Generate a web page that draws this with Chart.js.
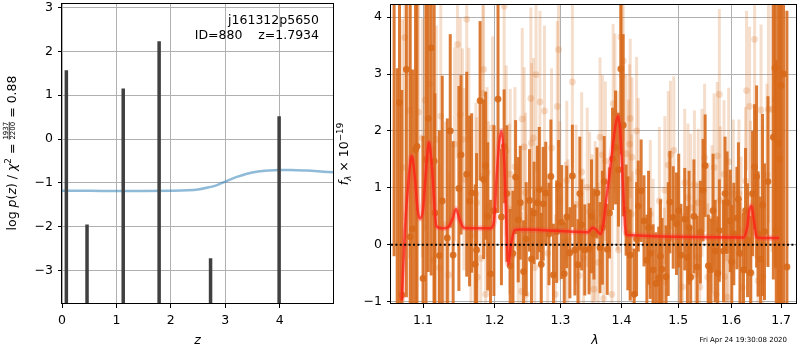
<!DOCTYPE html>
<html>
<head>
<meta charset="utf-8">
<script src="https://cdn.jsdelivr.net/npm/chart.js@4.4.1/dist/chart.umd.min.js"></script>
<style>
body { margin: 0; background: #fff; }
#wrap { position: relative; width: 800px; height: 350px; }
canvas { position: absolute; top: 0; }
</style>
</head>
<body>
<div id="wrap">
<canvas id="pzChart" width="345" height="350" style="left:0"></canvas>
<canvas id="specChart" width="465" height="350" style="left:335px"></canvas>
</div>
<script>
// ---- p(z) panel ----
var zTicks = [0, 1, 2, 3, 4];
var logpTicks = [-3, -2, -1, 0, 1, 2, 3];
var peakZ = [0.08, 0.46, 1.125, 1.785, 2.73, 3.99];
var peakLogp = [1.57, -1.95, 1.15, 2.23, -2.72, 0.52];
var chi2Z = [0, 0.5, 1.0, 1.5, 2.0, 2.3, 2.5, 2.7, 2.85, 3.0, 3.2, 3.4, 3.6, 3.8, 4.0, 4.2, 4.5, 4.8, 4.98];
var chi2Val = [-1.18, -1.18, -1.185, -1.185, -1.18, -1.17, -1.15, -1.10, -1.05, -0.97, -0.87, -0.79, -0.74, -0.715, -0.705, -0.705, -0.72, -0.745, -0.76];

// ---- spectrum panel ----
var lamTicks = [1.1, 1.2, 1.3, 1.4, 1.5, 1.6, 1.7];
var fluxTicks = [-1, 0, 1, 2, 3, 4];

// combined extraction (dark)
var darkLam = [1.062, 1.066, 1.072, 1.078, 1.083, 1.086, 1.090, 1.092, 1.100, 1.107, 1.111, 1.115, 1.116, 1.122, 1.126, 1.133, 1.137, 1.141, 1.149, 1.152,
  1.160, 1.164, 1.167, 1.172, 1.174, 1.179, 1.184, 1.187, 1.190, 1.194, 1.205, 1.210, 1.214, 1.223, 1.227, 1.231, 1.235, 1.238, 1.243, 1.247,
  1.252, 1.255, 1.259, 1.264, 1.267, 1.270, 1.273, 1.277, 1.282, 1.289, 1.294, 1.297, 1.306, 1.310, 1.315, 1.319, 1.323, 1.328, 1.334, 1.339,
  1.346, 1.354, 1.359, 1.364, 1.371, 1.376, 1.380, 1.385, 1.390, 1.395, 1.399, 1.408, 1.415, 1.422, 1.429, 1.434, 1.439, 1.444, 1.450, 1.455,
  1.460, 1.465, 1.471, 1.478, 1.485, 1.491, 1.497, 1.505, 1.512, 1.517, 1.523, 1.535, 1.541, 1.546, 1.550, 1.556, 1.561, 1.569, 1.577, 1.585,
  1.592, 1.598, 1.605, 1.611, 1.617, 1.624, 1.632, 1.638, 1.646, 1.653, 1.658, 1.666, 1.673, 1.684, 1.690, 1.694, 1.700, 1.712,
  1.069, 1.104, 1.199, 1.218, 1.285, 1.302, 1.331, 1.350, 1.368, 1.403, 1.411, 1.426,
  1.447, 1.468, 1.482, 1.501, 1.520, 1.529, 1.565, 1.574, 1.588, 1.601, 1.614, 1.628, 1.642, 1.650, 1.662, 1.688, 1.697, 1.705];
var darkFlux = [4.8, -1.4, -0.88, 3.08, 0.14, 0.28, 1.67, 1.73, -0.59, 2.22, 3.46, 1.47, 0.56, -0.19, 0.77, 0.12, 2.00, -0.18, 0.99, 1.58,
  1.24, 0.77, 0.91, -0.34, -0.09, 2.53, 1.15, 1.39, 0.50, -0.51, 2.56, 0.49, 1.73, -0.37, -0.15, 1.19, 0.44, 0.74, -0.47, 0.10,
  0.78, -0.25, 0.56, 0.74, 0.97, -0.34, 0.72, 0.91, 0.19, -0.53, 0.23, 1.04, -0.51, 0.49, -0.14, 1.21, -0.09, -0.35, 0.35, -0.09,
  -0.07, 0.19, 0.91, -0.05, 1.11, -0.08, 0.56, 1.51, 1.71, 1.32, 3.09, 0.61, -0.18, -0.87, 0.68, 0.95, 0.42, -0.27, -0.15, -0.44,
  -0.68, -0.58, -0.43, -0.56, 0.75, 0.48, 0.37, -0.18, 0.45, -0.22, -0.57, -0.39, 0.22, 0.96, 1.39, -0.37, -0.44, -0.11, 0.25, -0.11,
  0.74, 0.42, 0.19, 0.47, -0.15, -0.44, 0.08, -0.49, 1.37, 0.19, -0.25, 0.23, 1.11, 1.89, 0.25, 1.78, 2.8, -0.39,
  2.5, 1.5, 0.6, 0.9, 1.2, 0.4, 0.9, 0.5, 0.3, 2.1, 0.2, 0.1,
  0.3, -0.2, 0.1, 0.6, 0.3, 0.5, 0.6, -0.5, 0.9, -0.3, 0.8, 0.6, 0.9, 1.2, 0.7, 3.1, 1.5, 3.0];
var darkErr = [5.0, 4.5, 3.6, 4.0, 4.2, 2.8, 3.1, 2.8, 2.5, 2.7, 4.0, 2.8, 2.1, 2.2, 2.2, 2.1, 1.7, 2.0, 1.8, 1.4,
  1.8, 1.5, 1.4, 1.4, 1.7, 1.4, 1.4, 1.3, 1.3, 1.3, 2.0, 1.2, 1.0, 1.0, 1.1, 1.0, 1.1, 1.0, 0.9, 1.0,
  0.9, 0.9, 0.9, 1.0, 1.1, 0.9, 1.0, 0.9, 0.9, 0.9, 0.9, 0.8, 0.9, 0.9, 0.8, 0.9, 0.8, 0.8, 0.8, 0.8,
  0.8, 0.8, 0.8, 0.8, 0.8, 0.8, 0.8, 0.9, 1.0, 1.0, 1.5, 0.8, 0.8, 0.8, 0.8, 0.9, 0.8, 0.8, 0.8, 0.8,
  0.9, 0.9, 0.9, 0.9, 0.9, 0.9, 0.9, 0.9, 0.9, 0.9, 0.9, 0.9, 0.9, 0.9, 0.9, 0.9, 0.9, 0.9, 0.9, 0.9,
  0.9, 0.9, 0.9, 0.9, 0.9, 1.0, 1.0, 1.0, 1.1, 1.1, 1.1, 1.2, 1.5, 2.5, 3.0, 3.5, 4.5, 4.5,
  4.5, 3.6, 1.5, 1.2, 1.0, 1.0, 1.0, 1.0, 1.0, 1.6, 1.0, 1.0,
  1.0, 1.0, 1.0, 1.0, 1.0, 1.0, 1.0, 1.0, 1.0, 1.0, 1.0, 1.1, 1.1, 1.6, 1.6, 3.5, 4.5, 4.5];

// individual beams (light)
var lightLam = [1.073, 1.076, 1.082, 1.094, 1.099, 1.103, 1.109, 1.114, 1.118, 1.122, 1.124, 1.130, 1.135, 1.143, 1.147, 1.151, 1.154, 1.156, 1.160, 1.163,
  1.166, 1.173, 1.174, 1.175, 1.180, 1.183, 1.184, 1.187, 1.189, 1.191, 1.197, 1.214, 1.217, 1.222, 1.223, 1.227, 1.230, 1.235, 1.240, 1.241,
  1.244, 1.246, 1.247, 1.254, 1.255, 1.258, 1.260, 1.262, 1.268, 1.270, 1.275, 1.280, 1.286, 1.292, 1.295, 1.297, 1.299, 1.308, 1.310, 1.312,
  1.319, 1.325, 1.330, 1.334, 1.337, 1.343, 1.347, 1.351, 1.354, 1.356, 1.361, 1.364, 1.368, 1.370, 1.373, 1.384, 1.386, 1.389, 1.393, 1.395,
  1.399, 1.401, 1.403, 1.408, 1.412, 1.414, 1.415, 1.417, 1.418, 1.419, 1.426, 1.429, 1.450, 1.455, 1.466, 1.475, 1.476, 1.482, 1.486, 1.492,
  1.501, 1.508, 1.512, 1.518, 1.523, 1.530, 1.532, 1.535, 1.537, 1.540, 1.544, 1.549, 1.555, 1.556, 1.563, 1.567, 1.571, 1.573, 1.577, 1.579,
  1.586, 1.587, 1.591, 1.592, 1.595, 1.597, 1.604, 1.615, 1.619, 1.622, 1.628, 1.630, 1.636, 1.638, 1.640, 1.646, 1.648, 1.653, 1.659, 1.662,
  1.663, 1.671, 1.674, 1.681, 1.686, 1.688];
var lightFlux = [1.36, 3.64, 2.36, 2.33, 1.88, 2.54, 2.82, -0.27, 1.85, -0.40, 2.26, 0.36, -0.53, 1.77, 3.52, 2.29, 1.85, 1.15, 3.96, 1.86,
  0.16, 0.90, 0.74, -0.57, -0.24, 2.66, 3.08, -0.87, 1.27, 0.67, 2.06, 4.19, 1.65, 0.63, 1.24, -0.19, 1.37, -0.04, -0.82, 2.21,
  1.72, 0.92, -0.87, 2.57, 1.79, 1.88, -0.40, 2.99, 2.51, -0.36, 2.35, -0.15, 1.70, -0.87, 2.43, 3.43, 0.77, 0.06, 1.13, 0.10,
  2.86, 0.71, -0.54, 1.28, -0.23, 1.01, 0.58, 0.19, -0.78, 0.42, -0.31, 1.89, 1.58, -0.94, 1.47, -0.87, 2.48, 2.31, 1.30, -0.09,
  3.65, 2.96, 3.23, 1.60, 1.15, 1.77, 2.22, 0.54, 1.54, -0.11, 2.00, 1.28, 0.54, -0.14, 0.77, -0.65, 0.96, 1.40, 1.58, 1.66,
  -0.08, -0.74, 1.09, 0.83, 0.65, 1.06, -0.51, -0.22, 0.74, -0.74, 1.09, 1.53, -0.57, 0.14, 0.45, 1.36, -0.87, 1.56, 2.64, 0.78,
  1.24, -0.56, -0.23, -0.92, 1.46, -0.08, 0.90, 0.90, 0.25, -0.75, 1.12, 2.71, 2.43, 0.88, -0.50, 3.61, 1.06, -0.63, 2.37, 0.68,
  -0.56, 1.23, 2.38, 2.38, 3.11, 2.56];
var lightErr = [2.6, 3.2, 2.6, 2.3, 2.1, 2.3, 2.1, 2.0, 2.0, 1.8, 2.0, 1.8, 1.8, 1.7, 2.0, 1.7, 1.6, 1.6, 2.0, 1.6,
  1.6, 1.6, 1.5, 1.5, 1.5, 1.6, 1.7, 1.5, 1.5, 1.5, 1.6, 2.0, 1.5, 1.5, 1.5, 1.4, 1.4, 1.4, 1.4, 1.6,
  1.4, 1.4, 1.4, 1.6, 1.4, 1.4, 1.4, 1.7, 1.6, 1.4, 1.5, 1.4, 1.4, 1.4, 1.5, 1.7, 1.4, 1.4, 1.4, 1.4,
  1.5, 1.4, 1.4, 1.4, 1.4, 1.4, 1.4, 1.4, 1.4, 1.4, 1.4, 1.4, 1.4, 1.4, 1.4, 1.4, 1.4, 1.4, 1.4, 1.4,
  1.4, 1.4, 1.4, 1.4, 1.4, 1.4, 1.4, 1.4, 1.4, 1.4, 1.3, 1.3, 1.3, 1.3, 1.3, 1.3, 1.3, 1.3, 1.3, 1.3,
  1.3, 1.3, 1.3, 1.3, 1.3, 1.3, 1.3, 1.3, 1.3, 1.3, 1.3, 1.3, 1.3, 1.3, 1.3, 1.3, 1.3, 1.3, 1.5, 1.3,
  1.3, 1.3, 1.3, 1.3, 1.3, 1.3, 1.3, 1.3, 1.3, 1.3, 1.3, 1.4, 1.4, 1.3, 1.3, 1.6, 1.3, 1.3, 1.5, 1.4,
  1.4, 1.6, 2.0, 2.5, 3.0, 3.0];

// best-fit model
var modelLam = [1.072, 1.076, 1.080, 1.085, 1.089, 1.093, 1.096, 1.100, 1.104, 1.108, 1.112, 1.118, 1.125, 1.133, 1.140, 1.145, 1.150, 1.156, 1.165,
  1.194, 1.199, 1.203, 1.206, 1.210, 1.214, 1.217, 1.220, 1.224, 1.230, 1.240, 1.344, 1.352, 1.358, 1.365, 1.370, 1.375, 1.380, 1.385, 1.390,
  1.394, 1.398, 1.401, 1.404, 1.407, 1.410, 1.624, 1.631, 1.636, 1.640, 1.645, 1.650, 1.655, 1.696];
var modelFlux = [-0.98, 0.25, 1.00, 1.56, 1.20, 0.60, 0.46, 0.62, 1.30, 1.80, 1.36, 0.33, 0.29, 0.30, 0.45, 0.63, 0.44, 0.30, 0.29,
  0.29, 0.40, 1.20, 1.71, 2.00, 1.50, 0.50, -0.34, 0.00, 0.26, 0.27, 0.22, 0.30, 0.26, 0.19, 0.40, 0.85, 1.24, 1.70, 2.10,
  2.26, 2.00, 1.40, 0.75, 0.25, 0.17, 0.13, 0.30, 0.62, 0.68, 0.40, 0.14, 0.12, 0.12];

var FONT = '"DejaVu Sans", sans-serif';
var GRID = '#b0b0b0';

function fnt(size, italic) {
    return (italic ? 'italic ' : '') + size + 'px ' + FONT;
}

function minusFmt(v) {
    return v < 0 ? '\u2212' + Math.abs(v) : '' + v;
}

// draws a list of text runs on one baseline, returns total width
function textRuns(ctx, runs, x0, y0, draw) {
    var x = x0;
    runs.forEach(function (r) {
        if (r.frac) {
            ctx.font = fnt(r.size);
            var w1 = ctx.measureText(r.frac[0]).width;
            var w2 = ctx.measureText(r.frac[1]).width;
            var w = Math.max(w1, w2);
            if (draw) {
                ctx.fillText(r.frac[0], x + (w - w1) / 2, y0 - 8.2);
                ctx.fillRect(x, y0 - 7.2, w, 0.8);
                ctx.fillText(r.frac[1], x + (w - w2) / 2, y0 - 0.8);
            }
            x += w;
        } else {
            ctx.font = fnt(r.size || 12.5, r.it);
            if (draw) ctx.fillText(r.t, x, y0 + (r.dy || 0));
            x += ctx.measureText(r.t).width;
        }
    });
    return x - x0;
}

function drawLabel(ctx, runs, cx, cy, rotate) {
    ctx.save();
    ctx.fillStyle = '#000';
    ctx.textAlign = 'left';
    ctx.textBaseline = 'alphabetic';
    ctx.translate(cx, cy);
    if (rotate) ctx.rotate(-Math.PI / 2);
    var w = textRuns(ctx, runs, 0, 0, false);
    textRuns(ctx, runs, -w / 2, 0, true);
    ctx.restore();
}

// black frame round the plot area
var frame = {
    id: 'frame',
    afterDraw: function (chart) {
        var a = chart.chartArea, ctx = chart.ctx;
        ctx.save();
        ctx.strokeStyle = '#000';
        ctx.lineWidth = 1;
        ctx.strokeRect(Math.round(a.left) - 0.5, Math.round(a.top) + 0.5, Math.round(a.right - a.left) + 1, Math.round(a.bottom - a.top) - 1);
        ctx.restore();
    }
};

// vertical error bars, drawn just before each dataset's points
var errorBars = {
    id: 'errorBars',
    beforeDatasetDraw: function (chart, args) {
        var ds = chart.data.datasets[args.index];
        if (!ds.errs) return;
        var ctx = chart.ctx, a = chart.chartArea;
        var xs = chart.scales.x, ys = chart.scales.y;
        ctx.save();
        ctx.beginPath();
        ctx.rect(a.left, a.top, a.right - a.left, a.bottom - a.top);
        ctx.clip();
        ctx.strokeStyle = ds.errColor;
        ctx.lineWidth = 3;
        ds.data.forEach(function (p, i) {
            var px = xs.getPixelForValue(p.x);
            ctx.beginPath();
            ctx.moveTo(px, ys.getPixelForValue(p.y - ds.errs[i]));
            ctx.lineTo(px, ys.getPixelForValue(p.y + ds.errs[i]));
            ctx.stroke();
        });
        ctx.restore();
    }
};

// dotted zero line
var zeroLine = {
    id: 'zeroLine',
    afterDatasetsDraw: function (chart) {
        var ctx = chart.ctx, a = chart.chartArea;
        var y0 = chart.scales.y.getPixelForValue(0);
        ctx.save();
        ctx.strokeStyle = '#000';
        ctx.lineWidth = 2;
        ctx.setLineDash([2, 2.4]);
        ctx.beginPath();
        ctx.moveTo(a.left, y0);
        ctx.lineTo(a.right, y0);
        ctx.stroke();
        ctx.restore();
    }
};

function tickAxis(values, fmt, fixed, size) {
    return {
        afterBuildTicks: function (s) {
            s.ticks = values.map(function (v) { return { value: v }; });
        },
        afterFit: function (s) {
            if (fixed === 'w') s.width = size; else s.height = size;
            // no extra room for the end labels
            s.paddingTop = 0;
            s.paddingBottom = 0;
            s.paddingLeft = 0;
            s.paddingRight = 0;
        },
        grid: { color: GRID, lineWidth: 1, tickColor: '#000', tickLength: 4 },
        border: { display: false },
        ticks: { color: '#000', font: { family: FONT, size: 12.5 }, padding: 5, maxRotation: 0, autoSkip: false, callback: fmt }
    };
}

// ---- left chart ----
var spikeData = [];
peakZ.forEach(function (z, i) {
    spikeData.push({ x: z, y: -4 }, { x: z, y: peakLogp[i] }, { x: z, y: null });
});
var chi2Data = chi2Z.map(function (z, i) { return { x: z, y: chi2Val[i] }; });

var pzText = {
    id: 'pzText',
    afterDraw: function (chart) {
        var ctx = chart.ctx;
        ctx.save();
        ctx.fillStyle = '#000';
        ctx.font = fnt(12.5);
        ctx.textAlign = 'right';
        ctx.fillText('j161312p5650', 319, 24);
        ctx.fillText('ID=880    z=1.7934', 319, 39);
        ctx.restore();
        drawLabel(ctx, [{ t: 'log ' }, { t: 'p', it: true }, { t: '(' }, { t: 'z', it: true }, { t: ')' }, { t: ' / ' },
            { t: '\u03c7', it: true }, { t: '2', size: 8.8, dy: -5 }, { t: ' = ' }, { frac: ['1937', '2200'], size: 7 }, { t: ' = 0.88' }], 16, 153, true);
        drawLabel(ctx, [{ t: 'z', it: true }], 197.5, 344, false);
    }
};

new Chart(document.getElementById('pzChart'), {
    type: 'scatter',
    data: {
        datasets: [{
            type: 'line',
            data: spikeData,
            borderColor: '#404040',
            borderWidth: 3.5,
            pointRadius: 0,
            spanGaps: false,
            order: 1
        }, {
            type: 'line',
            data: chi2Data,
            borderColor: 'rgba(31,119,180,0.5)',
            borderWidth: 2.5,
            pointRadius: 0,
            cubicInterpolationMode: 'monotone',
            order: 2
        }]
    },
    options: {
        responsive: false,
        animation: false,
        devicePixelRatio: 1,
        layout: { padding: { top: 3, right: 12, left: 0, bottom: 0 } },
        plugins: { legend: { display: false }, tooltip: { enabled: false } },
        scales: {
            x: Object.assign({ type: 'linear', min: 0, max: 4.98 }, tickAxis(zTicks, function (v) { return '' + v; }, 'h', 46)),
            y: Object.assign({ type: 'linear', min: -3.76, max: 3.1 }, tickAxis(logpTicks, minusFmt, 'w', 62))
        }
    },
    plugins: [frame, pzText]
});

// ---- right chart ----
function pts(lam, flux) {
    return lam.map(function (l, i) { return { x: l, y: flux[i] }; });
}

var specText = {
    id: 'specText',
    afterDraw: function (chart) {
        var ctx = chart.ctx;
        drawLabel(ctx, [{ t: 'f', it: true }, { t: '\u03bb', it: true, size: 8.8, dy: 3 }, { t: ' \u00d7 10' }, { t: '\u221219', size: 8.8, dy: -5 }], 13, 154, true);
        drawLabel(ctx, [{ t: '\u03bb', it: true }], 260, 344, false);
        ctx.save();
        ctx.fillStyle = '#000';
        ctx.font = fnt(7);
        ctx.textAlign = 'right';
        ctx.fillText('Fri Apr 24 19:30:08 2020', 452, 341.5);
        ctx.restore();
    }
};

var ORANGE = '215,105,25';

new Chart(document.getElementById('specChart'), {
    type: 'scatter',
    data: {
        datasets: [{
            data: pts(lightLam, lightFlux),
            errs: lightErr,
            errColor: 'rgba(' + ORANGE + ',0.22)',
            backgroundColor: 'rgba(' + ORANGE + ',0.22)',
            borderWidth: 0,
            pointRadius: 3.4,
            order: 5
        }, {
            data: pts(darkLam, darkFlux),
            errs: darkErr,
            errColor: 'rgba(' + ORANGE + ',0.88)',
            backgroundColor: 'rgba(' + ORANGE + ',0.9)',
            borderWidth: 0,
            pointRadius: 3.4,
            order: 4
        }, {
            type: 'line',
            data: pts(modelLam, modelFlux),
            borderColor: 'rgba(255,60,60,0.25)',
            borderWidth: 6,
            pointRadius: 0,
            cubicInterpolationMode: 'monotone',
            order: 3
        }, {
            type: 'line',
            data: pts(modelLam, modelFlux),
            borderColor: 'rgba(255,30,20,0.75)',
            borderWidth: 2.5,
            pointRadius: 0,
            cubicInterpolationMode: 'monotone',
            order: 2
        }]
    },
    options: {
        responsive: false,
        animation: false,
        devicePixelRatio: 1,
        layout: { padding: { top: 3, right: 1, left: 0, bottom: 0 } },
        plugins: { legend: { display: false }, tooltip: { enabled: false } },
        scales: {
            x: Object.assign({ type: 'logarithmic', min: 1.058, max: 1.731 }, tickAxis(lamTicks, function (v) { return v.toFixed(1); }, 'h', 46)),
            y: Object.assign({ type: 'linear', min: -1.04, max: 4.23 }, tickAxis(fluxTicks, minusFmt, 'w', 56))
        }
    },
    plugins: [errorBars, zeroLine, frame, specText]
});
</script>
</body>
</html>
